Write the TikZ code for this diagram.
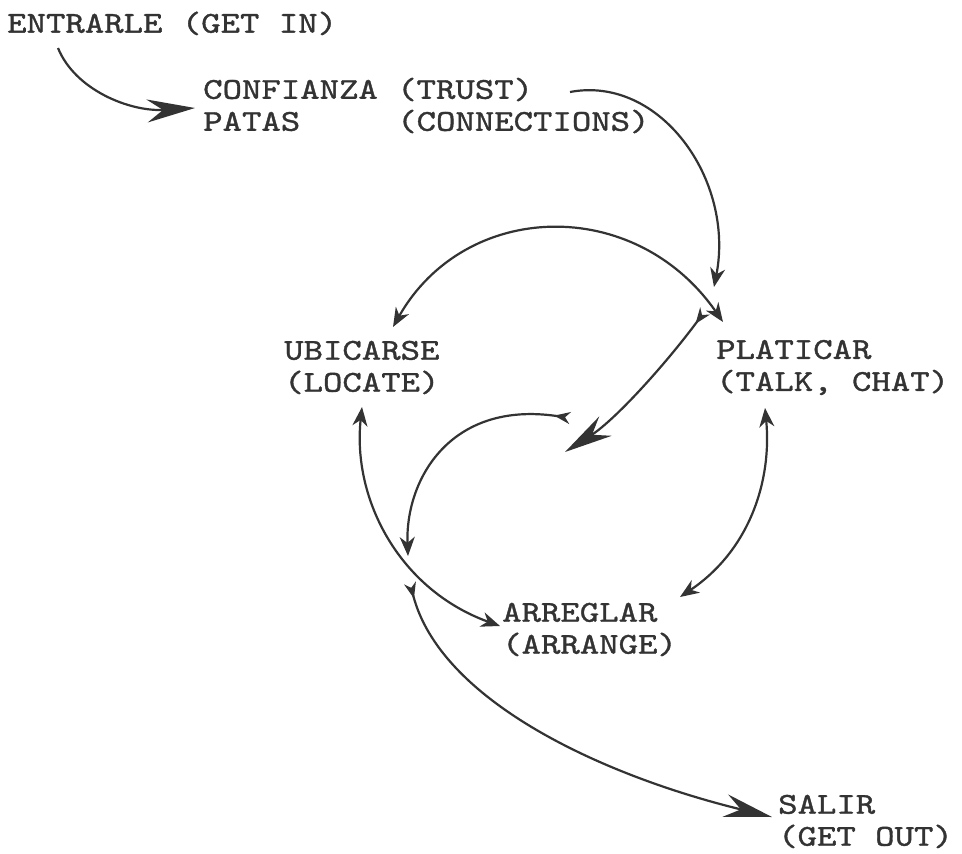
\documentclass[tikz,border=0pt]{standalone}
\usepackage{fontspec}
\newfontfamily\labelfont{lmmono10-regular.otf}[FakeStretch=1.22,FakeBold=1.2]
\usetikzlibrary{arrows.meta,calc}
\definecolor{ink}{HTML}{333333}
\tikzset{
  headS/.tip={Stealth[length=19pt,width=15pt,inset=6pt]},
  headL/.tip={Stealth[length=48pt,width=23pt,inset=16pt]},
  tailS/.tip={Stealth[length=16pt,width=12pt,inset=5pt,reversed]},
}
\begin{document}
\begin{tikzpicture}[x=1pt,y=-1pt,
  word/.style={anchor=west, inner sep=0pt, align=left, text=ink,
    font=\labelfont\fontsize{30.3}{32}\selectfont\frenchspacing},
  link/.style={draw=ink, line width=2.2pt},
]
\fill[white] (0,0) rectangle (962,854);
\useasboundingbox (0,0) rectangle (962,854);

% labels
\node[word] (entrar) at (7,23.4)    {ENTRARLE (GET IN)};
\node[word] (conf)   at (203,105.5) {CONFIANZA (TRUST)\\PATAS\ \ \ \ \ (CONNECTIONS)};
\node[word] (ubic)   at (284,367.5) {UBICARSE\\(LOCATE)};
\node[word] (plat)   at (716,367.5) {PLATICAR\\(TALK, CHAT)};
\node[word] (arre)   at (502,629.5) {ARREGLAR\\(ARRANGE)};
\node[word] (salir)  at (778,821.5) {SALIR\\(GET OUT)};

% free ends of the inner loop and of the exit
\coordinate (cyc-tip)    at (565,452);
\coordinate (loop-start) at (570,418);
\coordinate (loop-end)   at (408,556);
\coordinate (exit-start) at (410,583);

% get in -> trust
\draw[link,-headL] ([shift={(51,24.6)}]entrar.west)
  .. controls +(17,42) and +(-65,4) .. ([shift={(-8,2.5)}]conf.west);
% trust -> talk
\draw[link,-headS] ([shift={(367,-13.5)}]conf.west)
  .. controls +(90,-17) and +(21,-107) .. ([shift={(-2,-80.5)}]plat.west);
% locate <-> talk
\draw[link,headS-headS] ([shift={(109,-40.5)}]ubic.west)
  .. controls +(72,-127) and +(-88,-127) .. ([shift={(7,-45.5)}]plat.west);
% talk -> inner loop
\draw[link,tailS-headL] ([shift={(-11,-56.5)}]plat.west)
  .. controls +(-40,54) and +(50,-32) .. (cyc-tip);
% inner loop arc
\draw[link,tailS-headS] (loop-start)
  .. controls +(-120,-18) and +(-3,-76) .. (loop-end);
% locate <-> arrange
\draw[link,headS-headS] ([shift={(78,39.5)}]ubic.west)
  .. controls +(-10,93) and +(-100,-36) .. ([shift={(-2,-3.5)}]arre.west);
% talk <-> arrange
\draw[link,headS-headS] ([shift={(49,40.5)}]plat.west)
  .. controls +(7,72) and +(70,-47) .. ([shift={(178,-32.5)}]arre.west);
% exit
\draw[link,tailS-headL] (exit-start)
  .. controls +(30,117) and +(-172,-42) .. ([shift={(-6,-4.5)}]salir.west);
\end{tikzpicture}
\end{document}
